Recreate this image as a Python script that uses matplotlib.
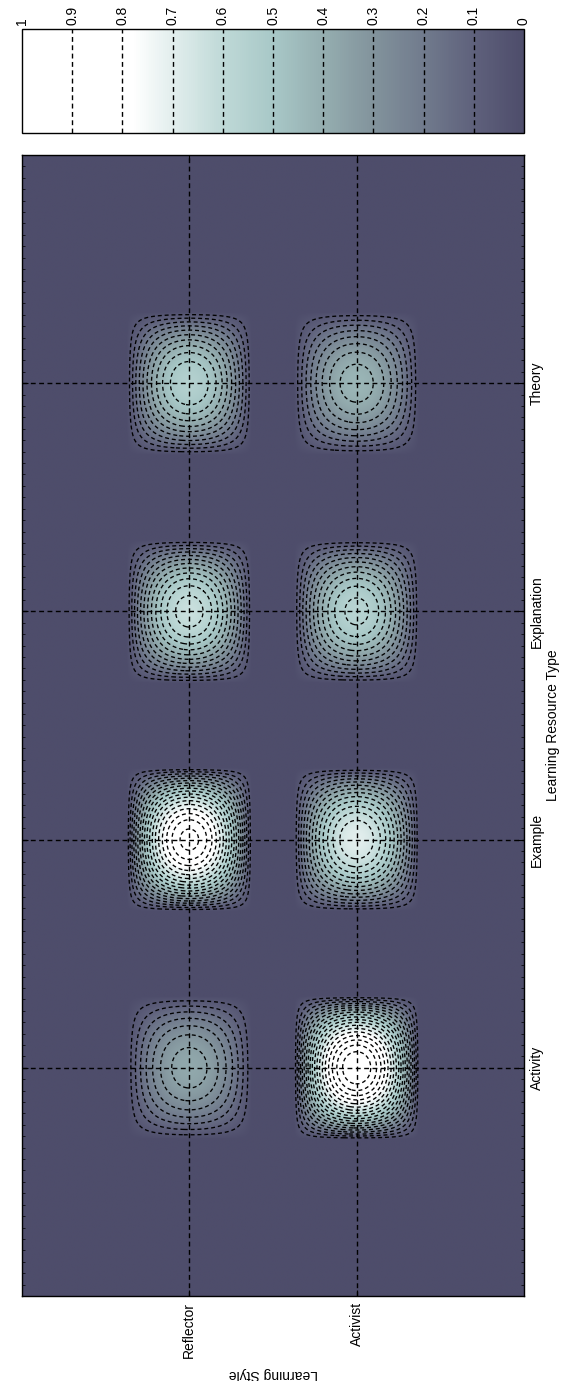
import numpy as np
import matplotlib
matplotlib.use('Agg')
import matplotlib.pyplot as plt
from matplotlib.colors import LinearSegmentedColormap
from matplotlib.ticker import MultipleLocator

plt.rcParams['font.family'] = ['Liberation Sans', 'DejaVu Sans']
plt.rcParams['lines.dashed_pattern'] = [3.0, 2.2]

#%% data
styles = ['Reflector', 'Activist']
resources = ['Activity', 'Example', 'Explanation', 'Theory']
reflector_peak = [0.38, 0.92, 0.63, 0.55]
activist_peak = [1.0, 0.70, 0.57, 0.43]
cbar_ticks = [0, 0.1, 0.2, 0.3, 0.4, 0.5, 0.6, 0.7, 0.8, 0.9, 1]
cbar_labels = ['0', '0.1', '0.2', '0.3', '0.4', '0.5', '0.6', '0.7', '0.8', '0.9', '1']

#%% colour map (dark slate -> pale teal -> white)
cnodes = [0.0, 0.1, 0.2, 0.3, 0.4, 0.5, 0.6, 0.7, 0.78, 1.0]
ccols = ['#4e4d6b', '#5f617c', '#717b8d', '#82939c', '#95aeb0',
         '#a8c8c7', '#bfd9d7', '#e2eeed', '#ffffff', '#ffffff']
cmap = LinearSegmentedColormap.from_list('ls', list(zip(cnodes, ccols)))

#%% membership surface: one bump per style / resource pair
wx, wy = 0.375, 0.315
def bump(u):
    return np.clip(1 - u**2, 0, None)

xs = np.linspace(0, 3, 901)
ys = np.linspace(0, 5, 1501)
X, Y = np.meshgrid(xs, ys)
Z = np.zeros_like(X)
for js, peaks in enumerate([reflector_peak, activist_peak]):
    for jr, p in enumerate(peaks):
        Z += p * bump((X - (js + 1)) / wx) * bump((Y - (jr + 1)) / wy)

#%% plot
fig = plt.figure(figsize=(5.68, 13.81), dpi=100)
W, H = 568, 1381
ax = fig.add_axes([22 / W, (H - 1296) / H, 502 / W, 1141 / H])
cax = fig.add_axes([22 / W, (H - 133) / H, 502 / W, 104 / H])

im = ax.imshow(Z, extent=[0, 3, 0, 5], origin='lower', cmap=cmap,
               vmin=0, vmax=1, aspect='auto', interpolation='bilinear')
levels = np.arange(0.05, 1.0, 0.05)
ax.contour(X, Y, Z, levels=levels, colors='k', linestyles='--', linewidths=0.95)

ax.set_xlim(0, 3)
ax.set_ylim(0, 5)
ax.set_xticks([1, 2])
ax.set_xticklabels(styles, rotation=90, va='top', ha='center')
ax.set_yticks([1, 2, 3, 4])
ax.set_yticklabels(resources, rotation=90, va='center', ha='left')
ax.yaxis.set_minor_locator(MultipleLocator(0.05))
ax.tick_params(which='both', direction='in', left=True, right=True,
               top=True, bottom=True, labelleft=False, labelright=True,
               labelsize=10, pad=4)
ax.tick_params(which='major', length=4, width=0.8)
ax.tick_params(which='minor', length=2, width=0.5)
ax.set_xlabel('Learning Style', rotation=180, fontsize=10, labelpad=7)
ax.yaxis.set_label_position('right')
ax.set_ylabel('Learning Resource Type', rotation=90, fontsize=10, labelpad=2)
ax.grid(True, which='major', linestyle=(0, (3.5, 2.5)), color='k', linewidth=1.0)
ax.set_axisbelow(False)
for s in ax.spines.values():
    s.set_linewidth(1.0)

cb = fig.colorbar(im, cax=cax, orientation='horizontal')
cax.set_xlim(1, 0)
cax.xaxis.set_ticks_position('top')
cax.set_xticks(cbar_ticks)
cax.set_xticklabels(cbar_labels, rotation=90, fontsize=10)
cax.tick_params(direction='in', length=0, pad=3)
for t in cbar_ticks[1:-1]:
    cax.axvline(t, linestyle=(0, (3.5, 2.5)), color='k', linewidth=1.0)
cb.outline.set_linewidth(1.0)

fig.savefig('out.png', dpi=100)
